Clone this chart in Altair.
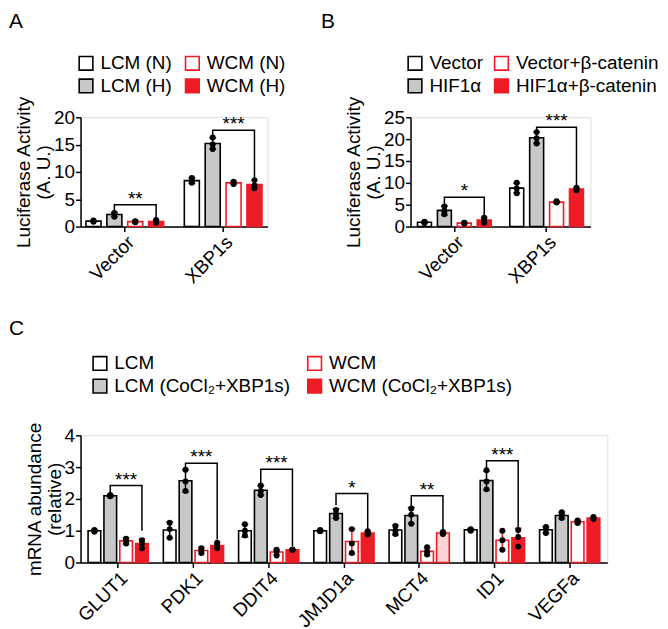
import altair as alt
import pandas as pd

FONT = "Liberation Sans"
RED = "#ee1c25"
GRAY = "#c8c8c8"
PINK = "#fcd3d5"
FS = 19

# ---------------- Panel A ----------------
a_groups = ["Vector", "XBP1s"]
a_series = ["LCM (N)", "LCM (H)", "WCM (N)", "WCM (H)"]
a_means = [[1.0, 2.2, 0.9, 0.9], [8.4, 15.2, 8.0, 7.7]]
a_errs = [[0.1, 0.4, 0.15, 0.3], [0.5, 1.0, 0.3, 0.8]]
a_dots = [
    [[0.9, 1.0, 1.1], [1.8, 2.3, 2.5], [0.8, 0.9, 1.0], [0.7, 0.8, 1.2]],
    [[8.0, 8.4, 8.9], [14.2, 15.0, 16.3], [7.8, 8.0, 8.2], [7.0, 7.5, 8.5]],
]
a_brackets = [("Vector", 4.0, 2.7, 1.6, "**"), ("XBP1s", 17.6, 16.4, 8.8, "***")]

# ---------------- Panel B ----------------
b_groups = ["Vector", "XBP1s"]
b_series = ["Vector", "HIF1α", "Vector+β-catenin", "HIF1α+β-catenin"]
b_means = [[1.0, 3.7, 0.8, 1.5], [8.8, 20.3, 5.6, 8.6]]
b_errs = [[0.2, 1.0, 0.1, 0.6], [1.1, 1.3, 0.2, 0.3]]
b_dots = [
    [[0.8, 1.0, 1.1], [2.8, 3.5, 4.6], [0.7, 0.8, 0.9], [0.9, 1.5, 2.0]],
    [[7.6, 8.7, 10.0], [19.0, 20.2, 21.6], [5.5, 5.6, 5.8], [8.3, 8.6, 8.9]],
]
b_brackets = [("Vector", 6.7, 5.2, 2.6, "*"), ("XBP1s", 22.7, 21.8, 9.4, "***")]

# ---------------- Panel C ----------------
c_groups = ["GLUT1", "PDK1", "DDIT4", "JMJD1a", "MCT4", "ID1", "VEGFa"]
c_series = ["LCM", "LCM (CoCl₂+XBP1s)", "WCM", "WCM (CoCl₂+XBP1s)"]
c_means = [
    [1.0, 2.1, 0.68, 0.6],
    [1.02, 2.57, 0.38, 0.53],
    [1.0, 2.27, 0.33, 0.4],
    [1.0, 1.54, 0.66, 0.93],
    [1.02, 1.48, 0.35, 0.93],
    [1.03, 2.58, 0.7, 0.78],
    [1.03, 1.48, 1.28, 1.4],
]
c_errs = [
    [0.03, 0.03, 0.1, 0.15],
    [0.25, 0.35, 0.1, 0.1],
    [0.2, 0.15, 0.08, 0.02],
    [0.03, 0.15, 0.4, 0.05],
    [0.15, 0.25, 0.12, 0.03],
    [0.03, 0.3, 0.3, 0.3],
    [0.1, 0.1, 0.05, 0.03],
]
c_dots = [
    [[0.97, 1.0, 1.02], [2.08, 2.1, 2.12], [0.6, 0.7, 0.75], [0.45, 0.6, 0.7]],
    [[0.78, 1.05, 1.25], [2.25, 2.55, 2.92], [0.3, 0.38, 0.45], [0.45, 0.55, 0.62]],
    [[0.85, 1.0, 1.2], [2.12, 2.25, 2.42], [0.22, 0.35, 0.4], [0.39, 0.4, 0.41]],
    [[0.98, 1.0, 1.02], [1.4, 1.52, 1.65], [0.3, 0.6, 1.05], [0.88, 0.93, 0.98]],
    [[0.9, 1.0, 1.15], [1.22, 1.5, 1.7], [0.25, 0.35, 0.48], [0.9, 0.93, 0.96]],
    [[1.0, 1.03, 1.05], [2.3, 2.55, 2.9], [0.4, 0.7, 1.0], [0.5, 0.8, 1.02]],
    [[0.93, 1.05, 1.12], [1.4, 1.5, 1.58], [1.24, 1.28, 1.32], [1.37, 1.4, 1.43]],
]
c_brackets = [
    ("GLUT1", 2.42, 2.22, 1.0, "***"),
    ("PDK1", 3.12, 2.98, 0.72, "***"),
    ("DDIT4", 2.93, 2.48, 0.52, "***"),
    ("JMJD1a", 2.17, 1.8, 1.05, "*"),
    ("MCT4", 2.1, 1.78, 1.02, "**"),
    ("ID1", 3.2, 2.95, 1.1, "***"),
]


def build_panel(groups, series, means, errs, dots, brackets, width, height,
                ymax, ystep, ytitle, label, label_pos, legend_x, legend_y,
                gpad, spad, col_pad=10, pink=None):
    bar_rows, dot_rows, line_rows, star_rows = [], [], [], []
    for gi, g in enumerate(groups):
        for si, s in enumerate(series):
            m = means[gi][si]
            e = errs[gi][si]
            bar_rows.append({"group": g, "series": s, "value": m,
                             "lo": m - e, "hi": m + e})
            for v in dots[gi][si]:
                dot_rows.append({"group": g, "series": s, "value": v})
    for bi, (g, top, yl, yr, txt) in enumerate(brackets):
        pts = [(series[1], yl), (series[1], top), (series[3], top), (series[3], yr)]
        for k, (s, v) in enumerate(pts):
            line_rows.append({"bid": bi, "ord": k, "group": g, "series": s, "value": v})
        star_rows.append({"group": g, "series": series[2], "value": top, "txt": txt})

    bars = pd.DataFrame(bar_rows)
    dts = pd.DataFrame(dot_rows)
    lines = pd.DataFrame(line_rows)
    stars = pd.DataFrame(star_rows)
    lab = pd.DataFrame({"t": [label]})

    x_axis = alt.Axis(title=None, labelAngle=-45, labelAlign="right",
                      labelBaseline="top", labelFontSize=FS, labelFont=FONT,
                      labelColor="black", tickColor="black", tickWidth=1.5,
                      tickSize=5, domainColor="black", domainWidth=1.5,
                      labelPadding=1)
    y_axis = alt.Axis(title=ytitle, values=list(range(0, ymax + 1, ystep)),
                      labelFontSize=FS, labelFont=FONT, labelColor="black",
                      tickColor="black", tickWidth=1.5, tickSize=5,
                      domainColor="black", domainWidth=1.5, grid=False,
                      labelPadding=1, titleFontSize=FS, titleFont=FONT,
                      titleFontWeight="normal", titleColor="black",
                      titlePadding=0, titleLineHeight=20)

    def xe():
        return alt.X("group:N", sort=groups,
                     scale=alt.Scale(domain=groups, paddingInner=gpad[0],
                                     paddingOuter=gpad[1]),
                     axis=x_axis)

    def xoe():
        return alt.XOffset("series:N", sort=series,
                           scale=alt.Scale(domain=series, paddingInner=spad[0],
                                           paddingOuter=spad[1]))

    def ye(field):
        return alt.Y(f"{field}:Q",
                     scale=alt.Scale(domain=[0, ymax], nice=False, zero=True),
                     axis=y_axis)

    fills = ["white", GRAY, "white", RED]
    strokes = ["black", "black", RED, RED]
    leg = alt.Legend(title=None, orient="none", legendX=legend_x,
                     legendY=legend_y, columns=2, symbolType="square",
                     symbolSize=190, symbolStrokeWidth=1.6, labelFontSize=FS,
                     labelFont=FONT, labelColor="black", labelOffset=5,
                     columnPadding=col_pad, rowPadding=2, labelLimit=400,
                     padding=0)
    fill_enc = alt.Fill("series:N",
                        scale=alt.Scale(domain=series, range=fills),
                        legend=leg)
    if pink is not None:
        fill_enc = alt.condition(pink, alt.value(PINK), fill_enc)
    stroke_enc = alt.Stroke("series:N",
                            scale=alt.Scale(domain=series, range=strokes),
                            legend=leg)

    red_test = f"datum.series == '{series[2]}' || datum.series == '{series[3]}'"
    err_color = alt.condition(red_test, alt.value(RED), alt.value("black"))

    bar_layer = alt.Chart(bars).mark_bar(strokeWidth=1.6).encode(
        x=xe(), xOffset=xoe(), y=ye("value"), fill=fill_enc, stroke=stroke_enc)
    err_layer = alt.Chart(bars).mark_rule(strokeWidth=1.5).encode(
        x=xe(), xOffset=xoe(), y=ye("lo"), y2="hi", stroke=err_color)
    cap_hi = alt.Chart(bars).mark_tick(orient="horizontal", size=7,
                                       thickness=1.5).encode(
        x=xe(), xOffset=xoe(), y=ye("hi"), color=err_color)
    cap_lo = alt.Chart(bars).mark_tick(orient="horizontal", size=7,
                                       thickness=1.5).encode(
        x=xe(), xOffset=xoe(), y=ye("lo"), color=err_color)
    dot_layer = alt.Chart(dts).mark_circle(size=36, color="black",
                                           opacity=1).encode(
        x=xe(), xOffset=xoe(), y=ye("value"))
    line_layer = alt.Chart(lines).mark_line(color="black", strokeWidth=1.5).encode(
        x=xe(), xOffset=xoe(), y=ye("value"), detail="bid:N",
        order="ord:Q")
    star_layer = alt.Chart(stars).mark_text(fontSize=FS, font=FONT,
                                            baseline="alphabetic",
                                            color="black", dy=0).encode(
        x=xe(), xOffset=xoe(), y=ye("value"), text="txt:N")
    label_layer = alt.Chart(lab).mark_text(fontSize=21, font=FONT,
                                           align="left", baseline="alphabetic",
                                           color="black").encode(
        x=alt.value(label_pos[0]), y=alt.value(label_pos[1]), text="t:N")

    return alt.layer(bar_layer, err_layer, cap_hi, cap_lo, dot_layer,
                     line_layer, star_layer, label_layer).properties(
        width=width, height=height)


panel_a = build_panel(a_groups, a_series, a_means, a_errs, a_dots, a_brackets,
                      188, 110, 20, 5, ["Luciferase Activity", "(A. U.)"],
                      "A", (-72, -90), -4, -64, (0.1, 0.0), (0.28, 0.26))
panel_b = build_panel(b_groups, b_series, b_means, b_errs, b_dots, b_brackets,
                      181, 110, 25, 5, ["Luciferase Activity", "(A. U.)"],
                      "B", (-90, -90), -5, -64, (0.05, 0.0), (0.3, 0.35),
                      col_pad=8)
panel_c = build_panel(c_groups, c_series, c_means, c_errs, c_dots, c_brackets,
                      530, 128, 4, 1, ["mRNA abundance", "(relative)"],
                      "C", (-72, -101), 10, -82, (0.2, 0.1), (0.2, 0.0),
                      col_pad=14,
                      pink="datum.group == 'MCT4' && datum.series == 'WCM (CoCl₂+XBP1s)'")

indep = dict(x="independent", xOffset="independent", y="independent",
             fill="independent", stroke="independent")

top = alt.hconcat(panel_a, panel_b, spacing=33).resolve_scale(**indep) \
    .resolve_legend(fill="independent", stroke="independent")
chart = alt.vconcat(top, panel_c, spacing=29).resolve_scale(**indep) \
    .resolve_legend(fill="independent", stroke="independent").properties(
    padding=0
).configure_view(stroke=None).configure(font=FONT)

chart.save("out.html", embed_options={"renderer": "svg", "actions": False})
